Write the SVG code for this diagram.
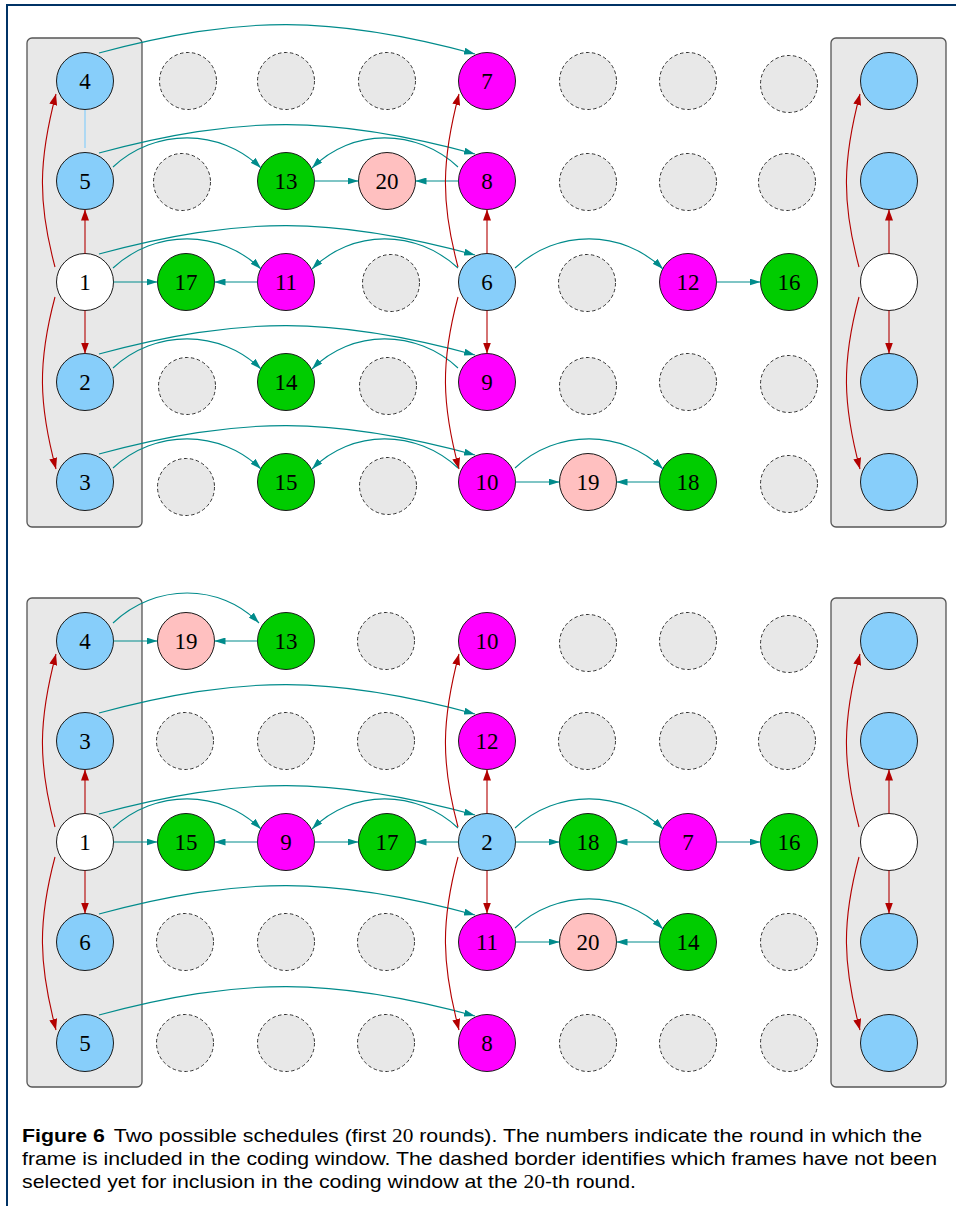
<svg xmlns="http://www.w3.org/2000/svg" width="956" height="1206" viewBox="0 0 956 1206">
<defs>
<style>
.n{stroke:#1a1a1a;stroke-width:1}
.blue{fill:#87CEFA}.mag{fill:#FF00FF}.grn{fill:#00CC00}.pink{fill:#FFC0C0}.wht{fill:#ffffff}
.e{fill:#e8e8e8;stroke:#333;stroke-width:1;stroke-dasharray:3.5 2.5}
.lbl{font-family:"Liberation Serif","DejaVu Serif",serif;font-size:23px;text-anchor:middle;fill:#000}
.box{fill:#e8e8e8;stroke:#555;stroke-width:1.3}
.t{fill:none;stroke:#008B8B;stroke-width:1.1;marker-end:url(#at)}
.r{fill:none;stroke:#B30000;stroke-width:1.1;marker-end:url(#ar)}
.lb{fill:none;stroke:#87CEFA;stroke-width:1.2}
.cap{font-family:"Liberation Sans",Arial,sans-serif;font-size:19px;fill:#000}
.m{font-family:"Liberation Serif","DejaVu Serif",serif}
</style>
<marker id="at" markerUnits="userSpaceOnUse" markerWidth="11" markerHeight="7" refX="11" refY="3.5" orient="auto"><path d="M0,0 L11,3.5 L0,7 z" fill="#008B8B"/></marker>
<marker id="ar" markerUnits="userSpaceOnUse" markerWidth="11" markerHeight="8" refX="11" refY="4" orient="auto"><path d="M0,0 L11,4 L0,8 z" fill="#B30000"/></marker>
</defs>
<rect width="956" height="1206" fill="#fff"/>
<path d="M7,1206 L7,5 L956,5" fill="none" stroke="#003366" stroke-width="2"/>

<g id="boxes">
<rect class="box" x="27" y="38" width="115" height="489" rx="5"/>
<rect class="box" x="831" y="38" width="115" height="489" rx="5"/>
<rect class="box" x="27" y="598" width="115" height="489" rx="5"/>
<rect class="box" x="831" y="598" width="115" height="489" rx="5"/>
</g>

<!-- TOP PANEL: empty frames -->
<g id="top-empty">
<circle class="e" cx="188" cy="81" r="28.5"/><circle class="e" cx="286" cy="81" r="28.5"/><circle class="e" cx="387" cy="81" r="28.5"/><circle class="e" cx="588" cy="81" r="28.5"/><circle class="e" cx="688" cy="81" r="28.5"/><circle class="e" cx="789" cy="84" r="28.5"/>
<circle class="e" cx="182" cy="182" r="28.5"/><circle class="e" cx="588" cy="182" r="28.5"/><circle class="e" cx="688" cy="182" r="28.5"/><circle class="e" cx="787" cy="182" r="28.5"/>
<circle class="e" cx="391" cy="283" r="28.5"/><circle class="e" cx="587" cy="283" r="28.5"/>
<circle class="e" cx="187" cy="386" r="28.5"/><circle class="e" cx="388" cy="386" r="28.5"/><circle class="e" cx="588" cy="386" r="28.5"/><circle class="e" cx="688" cy="382" r="28.5"/><circle class="e" cx="789" cy="384" r="28.5"/>
<circle class="e" cx="186" cy="487" r="28.5"/><circle class="e" cx="388" cy="486" r="28.5"/><circle class="e" cx="789" cy="484" r="28.5"/>
</g>

<g id="top-n4"><circle class="n blue" cx="85" cy="81" r="28.5"/><text class="lbl" x="85" y="88.5">4</text></g>
<g id="top-n5"><circle class="n blue" cx="85" cy="181" r="28.5"/><text class="lbl" x="85" y="188.5">5</text></g>
<g id="top-n1"><circle class="n wht" cx="85" cy="282" r="28.5"/><text class="lbl" x="85" y="289.5">1</text></g>
<g id="top-n2"><circle class="n blue" cx="85" cy="382" r="28.5"/><text class="lbl" x="85" y="389.5">2</text></g>
<g id="top-n3"><circle class="n blue" cx="85" cy="482" r="28.5"/><text class="lbl" x="85" y="489.5">3</text></g>
<g id="top-n17"><circle class="n grn" cx="186" cy="282" r="28.5"/><text class="lbl" x="186" y="289.5">17</text></g>
<g id="top-n13"><circle class="n grn" cx="286" cy="181" r="28.5"/><text class="lbl" x="286" y="188.5">13</text></g>
<g id="top-n11"><circle class="n mag" cx="286" cy="282" r="28.5"/><text class="lbl" x="286" y="289.5">11</text></g>
<g id="top-n14"><circle class="n grn" cx="286" cy="382" r="28.5"/><text class="lbl" x="286" y="389.5">14</text></g>
<g id="top-n15"><circle class="n grn" cx="286" cy="482" r="28.5"/><text class="lbl" x="286" y="489.5">15</text></g>
<g id="top-n20"><circle class="n pink" cx="387" cy="181" r="28.5"/><text class="lbl" x="387" y="188.5">20</text></g>
<g id="top-n7"><circle class="n mag" cx="487" cy="81" r="28.5"/><text class="lbl" x="487" y="88.5">7</text></g>
<g id="top-n8"><circle class="n mag" cx="487" cy="181" r="28.5"/><text class="lbl" x="487" y="188.5">8</text></g>
<g id="top-n6"><circle class="n blue" cx="487" cy="282" r="28.5"/><text class="lbl" x="487" y="289.5">6</text></g>
<g id="top-n9"><circle class="n mag" cx="487" cy="382" r="28.5"/><text class="lbl" x="487" y="389.5">9</text></g>
<g id="top-n10"><circle class="n mag" cx="487" cy="482" r="28.5"/><text class="lbl" x="487" y="489.5">10</text></g>
<g id="top-n19"><circle class="n pink" cx="588" cy="482" r="28.5"/><text class="lbl" x="588" y="489.5">19</text></g>
<g id="top-n12"><circle class="n mag" cx="688" cy="282" r="28.5"/><text class="lbl" x="688" y="289.5">12</text></g>
<g id="top-n18"><circle class="n grn" cx="688" cy="482" r="28.5"/><text class="lbl" x="688" y="489.5">18</text></g>
<g id="top-n16"><circle class="n grn" cx="789" cy="282" r="28.5"/><text class="lbl" x="789" y="289.5">16</text></g>
<g id="top-right-a"><circle class="n blue" cx="889" cy="81" r="28.5"/></g>
<g id="top-right-b"><circle class="n blue" cx="889" cy="181" r="28.5"/></g>
<g id="top-right-c"><circle class="n wht" cx="889" cy="282" r="28.5"/></g>
<g id="top-right-d"><circle class="n blue" cx="889" cy="382" r="28.5"/></g>
<g id="top-right-e"><circle class="n blue" cx="889" cy="482" r="28.5"/></g>

<!-- BOTTOM PANEL: empty frames -->
<g id="bot-empty">
<circle class="e" cx="386" cy="641" r="28.5"/><circle class="e" cx="588" cy="643" r="28.5"/><circle class="e" cx="688" cy="641" r="28.5"/><circle class="e" cx="789" cy="644" r="28.5"/>
<circle class="e" cx="185" cy="741" r="28.5"/><circle class="e" cx="286" cy="741" r="28.5"/><circle class="e" cx="386" cy="741" r="28.5"/><circle class="e" cx="587" cy="741" r="28.5"/><circle class="e" cx="688" cy="741" r="28.5"/><circle class="e" cx="787" cy="741" r="28.5"/>
<circle class="e" cx="185" cy="942" r="28.5"/><circle class="e" cx="286" cy="942" r="28.5"/><circle class="e" cx="386" cy="942" r="28.5"/><circle class="e" cx="789" cy="942" r="28.5"/>
<circle class="e" cx="185" cy="1043" r="28.5"/><circle class="e" cx="286" cy="1043" r="28.5"/><circle class="e" cx="386" cy="1043" r="28.5"/><circle class="e" cx="588" cy="1043" r="28.5"/><circle class="e" cx="688" cy="1043" r="28.5"/><circle class="e" cx="789" cy="1043" r="28.5"/>
</g>

<g id="bot-n4"><circle class="n blue" cx="85" cy="641" r="28.5"/><text class="lbl" x="85" y="648.5">4</text></g>
<g id="bot-n3"><circle class="n blue" cx="85" cy="741" r="28.5"/><text class="lbl" x="85" y="748.5">3</text></g>
<g id="bot-n1"><circle class="n wht" cx="85" cy="842" r="28.5"/><text class="lbl" x="85" y="849.5">1</text></g>
<g id="bot-n6"><circle class="n blue" cx="85" cy="942" r="28.5"/><text class="lbl" x="85" y="949.5">6</text></g>
<g id="bot-n5"><circle class="n blue" cx="85" cy="1043" r="28.5"/><text class="lbl" x="85" y="1050.5">5</text></g>
<g id="bot-n19"><circle class="n pink" cx="186" cy="641" r="28.5"/><text class="lbl" x="186" y="648.5">19</text></g>
<g id="bot-n13"><circle class="n grn" cx="286" cy="641" r="28.5"/><text class="lbl" x="286" y="648.5">13</text></g>
<g id="bot-n10"><circle class="n mag" cx="487" cy="641" r="28.5"/><text class="lbl" x="487" y="648.5">10</text></g>
<g id="bot-n12"><circle class="n mag" cx="487" cy="741" r="28.5"/><text class="lbl" x="487" y="748.5">12</text></g>
<g id="bot-n15"><circle class="n grn" cx="186" cy="842" r="28.5"/><text class="lbl" x="186" y="849.5">15</text></g>
<g id="bot-n9"><circle class="n mag" cx="286" cy="842" r="28.5"/><text class="lbl" x="286" y="849.5">9</text></g>
<g id="bot-n17"><circle class="n grn" cx="387" cy="842" r="28.5"/><text class="lbl" x="387" y="849.5">17</text></g>
<g id="bot-n2"><circle class="n blue" cx="487" cy="842" r="28.5"/><text class="lbl" x="487" y="849.5">2</text></g>
<g id="bot-n18"><circle class="n grn" cx="588" cy="842" r="28.5"/><text class="lbl" x="588" y="849.5">18</text></g>
<g id="bot-n7"><circle class="n mag" cx="688" cy="842" r="28.5"/><text class="lbl" x="688" y="849.5">7</text></g>
<g id="bot-n16"><circle class="n grn" cx="789" cy="842" r="28.5"/><text class="lbl" x="789" y="849.5">16</text></g>
<g id="bot-n11"><circle class="n mag" cx="487" cy="942" r="28.5"/><text class="lbl" x="487" y="949.5">11</text></g>
<g id="bot-n20"><circle class="n pink" cx="588" cy="942" r="28.5"/><text class="lbl" x="588" y="949.5">20</text></g>
<g id="bot-n14"><circle class="n grn" cx="688" cy="942" r="28.5"/><text class="lbl" x="688" y="949.5">14</text></g>
<g id="bot-n8"><circle class="n mag" cx="487" cy="1043" r="28.5"/><text class="lbl" x="487" y="1050.5">8</text></g>
<g id="bot-right-a"><circle class="n blue" cx="889" cy="641" r="28.5"/></g>
<g id="bot-right-b"><circle class="n blue" cx="889" cy="741" r="28.5"/></g>
<g id="bot-right-c"><circle class="n wht" cx="889" cy="842" r="28.5"/></g>
<g id="bot-right-d"><circle class="n blue" cx="889" cy="942" r="28.5"/></g>
<g id="bot-right-e"><circle class="n blue" cx="889" cy="1043" r="28.5"/></g>

<g id="connectors">
<!-- top teal -->
<path class="lb" d="M85,110 L85,148"/>
<path class="t" d="M99,53 C241,15 332,15 475,54"/>
<path class="t" d="M99,153 C241,115 332,115 475,154"/>
<path class="t" d="M99,254 C241,216 332,216 475,255"/>
<path class="t" d="M99,354 C241,316 332,316 475,355"/>
<path class="t" d="M99,454 C241,416 332,416 475,455"/>
<path class="t" d="M113,167 C155,128 220,128 261,168"/>
<path class="t" d="M113,268 C155,229 220,229 261,269"/>
<path class="t" d="M113,368 C155,329 220,329 261,369"/>
<path class="t" d="M113,468 C155,429 220,429 261,469"/>
<path class="t" d="M458,167 C416,128 352,128 312,168"/>
<path class="t" d="M458,268 C416,229 352,229 312,269"/>
<path class="t" d="M458,368 C416,329 352,329 312,369"/>
<path class="t" d="M458,468 C416,429 352,429 312,469"/>
<path class="t" d="M515,268 C557,229 622,229 663,269"/>
<path class="t" d="M515,468 C557,429 622,429 663,469"/>
<path class="t" d="M314.5,181 L358.5,181"/>
<path class="t" d="M458.5,181 L415.5,181"/>
<path class="t" d="M113.5,282 L157.5,282"/>
<path class="t" d="M257.5,282 L214.5,282"/>
<path class="t" d="M716.5,282 L760.5,282"/>
<path class="t" d="M515.5,482 L559.5,482"/>
<path class="t" d="M659.5,482 L616.5,482"/>
<!-- top red -->
<path class="r" d="M85,253.5 L85,209.5"/>
<path class="r" d="M85,310.5 L85,353.5"/>
<path class="r" d="M55,267 C37.6,202 38.6,160 56,94"/>
<path class="r" d="M55,297 C37.6,362 38.6,404 56,469"/>
<path class="r" d="M487,253.5 L487,209.5"/>
<path class="r" d="M487,310.5 L487,353.5"/>
<path class="r" d="M458,267 C440.6,202 441.6,160 459,94"/>
<path class="r" d="M458,297 C440.6,362 441.6,404 459,469"/>
<path class="r" d="M889,253.5 L889,209.5"/>
<path class="r" d="M889,310.5 L889,353.5"/>
<path class="r" d="M859,267 C841.6,202 842.6,160 860,94"/>
<path class="r" d="M859,297 C841.6,362 842.6,404 860,469"/>
<!-- bottom teal -->
<path class="t" d="M113,623 C155,583 220,583 259,623"/>
<path class="t" d="M113.5,641 L157.5,641"/>
<path class="t" d="M257.5,641 L214.5,641"/>
<path class="t" d="M99,713 C241,675 332,675 475,714"/>
<path class="t" d="M99,814 C241,776 332,776 475,815"/>
<path class="t" d="M113,828 C155,789 220,789 261,829"/>
<path class="t" d="M458,828 C416,789 352,789 312,829"/>
<path class="t" d="M113.5,842 L157.5,842"/>
<path class="t" d="M257.5,842 L214.5,842"/>
<path class="t" d="M314.5,842 L358.5,842"/>
<path class="t" d="M458.5,842 L415.5,842"/>
<path class="t" d="M515.5,842 L559.5,842"/>
<path class="t" d="M659.5,842 L616.5,842"/>
<path class="t" d="M515,828 C557,789 622,789 663,829"/>
<path class="t" d="M716.5,842 L760.5,842"/>
<path class="t" d="M99,914 C241,876 332,876 475,915"/>
<path class="t" d="M515.5,942 L559.5,942"/>
<path class="t" d="M659.5,942 L616.5,942"/>
<path class="t" d="M515,928 C557,889 622,889 663,929"/>
<path class="t" d="M99,1015 C241,977 332,977 475,1016"/>
<!-- bottom red -->
<path class="r" d="M85,813.5 L85,769.5"/>
<path class="r" d="M85,870.5 L85,913.5"/>
<path class="r" d="M55,827 C37.6,762 38.6,720 56,654"/>
<path class="r" d="M55,857 C37.6,922 38.6,964 56,1030"/>
<path class="r" d="M487,813.5 L487,769.5"/>
<path class="r" d="M487,870.5 L487,913.5"/>
<path class="r" d="M458,827 C440.6,762 441.6,720 459,654"/>
<path class="r" d="M458,857 C440.6,922 441.6,964 459,1030"/>
<path class="r" d="M889,813.5 L889,769.5"/>
<path class="r" d="M889,870.5 L889,913.5"/>
<path class="r" d="M859,827 C841.6,762 842.6,720 860,654"/>
<path class="r" d="M859,857 C841.6,922 842.6,964 860,1030"/>
</g>

<g id="caption">
<text class="cap" x="22" y="1142" textLength="900" lengthAdjust="spacingAndGlyphs"><tspan font-weight="bold">Figure 6</tspan><tspan dx="8">Two possible schedules (first </tspan><tspan class="m">20</tspan> rounds). The numbers indicate the round in which the</text>
<text class="cap" x="22" y="1165" textLength="915" lengthAdjust="spacingAndGlyphs">frame is included in the coding window. The dashed border identifies which frames have not been</text>
<text class="cap" x="22" y="1188" textLength="614" lengthAdjust="spacingAndGlyphs">selected yet for inclusion in the coding window at the <tspan class="m">20</tspan>-th round.</text>
</g>
</svg>
